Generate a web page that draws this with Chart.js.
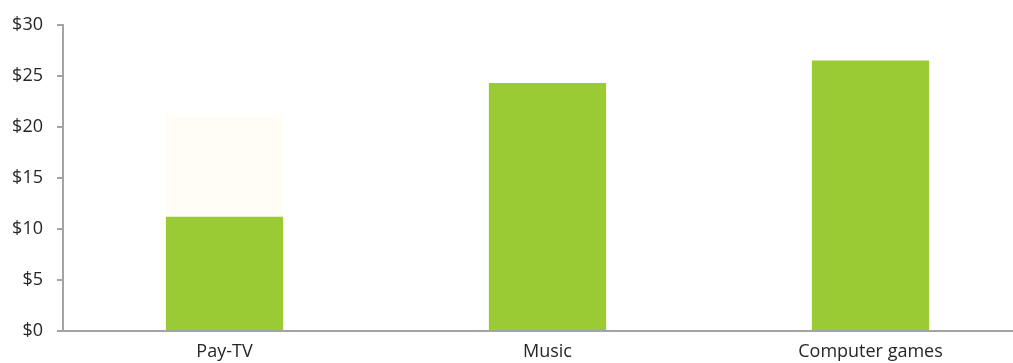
<!DOCTYPE html>
<html>
<head>
<meta charset="utf-8">
<script src="https://cdn.jsdelivr.net/npm/chart.js@4/dist/chart.umd.min.js"></script>
<style>
  html, body { margin: 0; padding: 0; background: #fff; overflow: hidden; }
  #wrap { width: 1032px; height: 363px; }
</style>
</head>
<body>
<div id="wrap"><canvas id="spendChart" width="1032" height="363"></canvas></div>
<script>
// Chart data
const categories = ['Pay-TV', 'Music', 'Computer games'];
const spendValues = [11.2, 24.3, 26.5];
const faintValues = [10.0, 0, 0];
const yTicks = [0, 5, 10, 15, 20, 25, 30];

const axisGrey = '#a3a3a3';
const textColor = '#262626';

Chart.defaults.font.family = '"Open Sans", sans-serif';
Chart.defaults.font.size = 18;
Chart.defaults.color = textColor;

const ctx = document.getElementById('spendChart');

new Chart(ctx, {
    type: 'bar',
    data: {
        labels: categories,
        datasets: [{
            data: spendValues,
            backgroundColor: '#9acb34',
            barPercentage: 0.363,
            categoryPercentage: 1
        }, {
            data: faintValues,
            backgroundColor: '#fffdf6',
            barPercentage: 0.363,
            categoryPercentage: 1
        }]
    },
    options: {
        responsive: false,
        animation: false,
        layout: { padding: { top: 22, left: 0, right: 0, bottom: 0 } },
        plugins: {
            legend: { display: false },
            tooltip: { enabled: false }
        },
        scales: {
            x: {
                stacked: true,
                border: { color: axisGrey, width: 2 },
                grid: { display: false, drawTicks: false },
                ticks: { padding: 10 },
                afterFit: scale => { scale.height = 32; }
            },
            y: {
                stacked: true,
                min: 0,
                max: 30,
                border: { color: axisGrey, width: 2 },
                grid: {
                    drawOnChartArea: false,
                    color: axisGrey,
                    lineWidth: 2,
                    tickLength: 6
                },
                afterBuildTicks: scale => {
                    scale.ticks = yTicks.map(v => ({ value: v }));
                },
                ticks: {
                    padding: 14,
                    callback: value => '$' + value
                },
                afterFit: scale => { scale.width = 63; }
            }
        }
    }
});
</script>
</body>
</html>
